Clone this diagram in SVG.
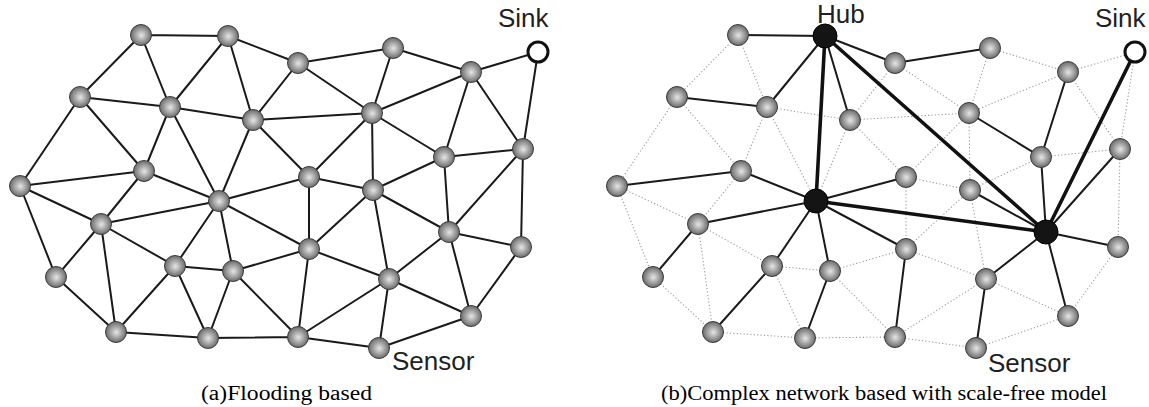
<svg xmlns="http://www.w3.org/2000/svg" width="1149" height="407" viewBox="0 0 1149 407">
<defs>
<radialGradient id="ball" cx="50%" cy="50%" r="55%" fx="52%" fy="52%">
<stop offset="0" stop-color="#e6e6e6"/>
<stop offset="0.45" stop-color="#a9a9a9"/>
<stop offset="1" stop-color="#5e5e5e"/>
</radialGradient>
<style>
.n{fill:url(#ball);stroke:#3c3c3c;stroke-width:1}
.hub{fill:#141414;stroke:#000;stroke-width:1}
.sink{fill:#fff;stroke:#111;stroke-width:3}
.e{stroke:#1a1a1a;stroke-width:2;fill:none;stroke-linecap:round}
.t{stroke:#111;stroke-width:3.6;fill:none;stroke-linecap:round}
.d{stroke:#9a9a9a;stroke-width:1.1;fill:none;stroke-dasharray:1.2 2.2}
.lbl{font-family:"Liberation Sans",Arial,sans-serif;font-size:26px;fill:#231f20}
.cap{font-family:"Liberation Serif","Times New Roman",serif;font-size:20.5px;fill:#000}
</style>
</defs>
<rect width="1149" height="407" fill="#fff"/>

<g id="connectors-a">
<path class="e" d="M141,35L228,36M141,35L80,97M141,35L170,107M228,36L170,107M228,36L253,120M228,36L298,63M80,97L170,107M80,97L20,186M80,97L144,171M170,107L144,171M170,107L253,120M170,107L219,201M253,120L219,201M253,120L298,63M253,120L372,113M253,120L309,177M20,186L144,171M20,186L101,224M20,186L56,277M144,171L219,201M144,171L101,224M219,201L309,177M101,224L219,201M101,224L56,277M101,224L116,332M101,224L175,266M56,277L116,332M175,266L219,201M175,266L233,271M175,266L116,332M175,266L208,338M233,271L219,201M233,271L208,338M233,271L309,249M233,271L298,337M219,201L309,249M116,332L208,338M208,338L298,337M298,63L393,48M298,63L372,113M393,48L372,113M393,48L471,72M471,72L538,52M471,72L372,113M471,72L444,157M471,72L523,149M538,52L523,149M372,113L309,177M372,113L373,190M372,113L444,157M444,157L523,149M444,157L449,232M523,149L449,232M523,149L521,247M309,177L373,190M309,177L309,249M373,190L444,157M373,190L389,279M373,190L449,232M309,249L389,279M309,249L298,337M309,249L373,190M449,232L521,247M449,232L389,279M449,232L471,316M521,247L471,316M389,279L298,337M389,279L379,348M389,279L471,316M298,337L379,348M379,348L471,316"/>
</g>

<g id="connectors-b">
<path class="d" d="M738,35L677,97M738,35L767,107M677,97L617,186M677,97L741,171M767,107L741,171M767,107L850,120M767,107L816,201M850,120L816,201M850,120L895,63M850,120L969,113M850,120L906,177M617,186L698,224M617,186L653,277M741,171L698,224M698,224L713,332M698,224L772,266M653,277L713,332M772,266L830,271M772,266L805,338M830,271L906,249M830,271L895,337M713,332L805,338M805,338L895,337M895,63L969,113M990,48L969,113M990,48L1068,72M1068,72L1135,52M1068,72L969,113M1068,72L1120,149M1135,52L1120,149M969,113L906,177M969,113L970,190M1041,157L1120,149M1120,149L1118,247M906,177L970,190M906,177L906,249M970,190L1041,157M970,190L986,279M906,249L986,279M906,249L970,190M1118,247L1068,316M986,279L895,337M986,279L1068,316M895,337L976,348M976,348L1068,316"/>
<path class="e" d="M738,35L825,36M825,36L767,107M825,36L850,120M825,36L895,63M677,97L767,107M617,186L741,171M741,171L816,201M895,63L990,48M969,113L1041,157M1068,72L1041,157M1120,149L1046,232M1041,157L1046,232M970,190L1046,232M816,201L906,177M698,224L816,201M772,266L816,201M830,271L816,201M816,201L906,249M698,224L653,277M772,266L713,332M830,271L805,338M906,249L895,337M1046,232L986,279M986,279L976,348M1046,232L1118,247M1046,232L1068,316"/>
<path class="t" d="M825,36L816,201M825,36L1046,232M816,201L1046,232M1135,52L1046,232"/>
</g>

<g id="nodes-a">
<g id="a1"><circle class="n" cx="141" cy="35" r="10.5"/></g>
<g id="a2"><circle class="n" cx="228" cy="36" r="10.5"/></g>
<g id="a3"><circle class="n" cx="298" cy="63" r="10.5"/></g>
<g id="a4"><circle class="n" cx="393" cy="48" r="10.5"/></g>
<g id="a5"><circle class="n" cx="471" cy="72" r="10.5"/></g>
<g id="a-sink"><circle class="sink" cx="538" cy="52" r="10"/></g>
<g id="a6"><circle class="n" cx="80" cy="97" r="10.5"/></g>
<g id="a7"><circle class="n" cx="170" cy="107" r="10.5"/></g>
<g id="a8"><circle class="n" cx="253" cy="120" r="10.5"/></g>
<g id="a9"><circle class="n" cx="372" cy="113" r="10.5"/></g>
<g id="a10"><circle class="n" cx="20" cy="186" r="10.5"/></g>
<g id="a11"><circle class="n" cx="144" cy="171" r="10.5"/></g>
<g id="a12"><circle class="n" cx="219" cy="201" r="10.5"/></g>
<g id="a13"><circle class="n" cx="309" cy="177" r="10.5"/></g>
<g id="a14"><circle class="n" cx="373" cy="190" r="10.5"/></g>
<g id="a15"><circle class="n" cx="444" cy="157" r="10.5"/></g>
<g id="a16"><circle class="n" cx="523" cy="149" r="10.5"/></g>
<g id="a17"><circle class="n" cx="101" cy="224" r="10.5"/></g>
<g id="a18"><circle class="n" cx="56" cy="277" r="10.5"/></g>
<g id="a19"><circle class="n" cx="175" cy="266" r="10.5"/></g>
<g id="a20"><circle class="n" cx="233" cy="271" r="10.5"/></g>
<g id="a21"><circle class="n" cx="309" cy="249" r="10.5"/></g>
<g id="a22"><circle class="n" cx="389" cy="279" r="10.5"/></g>
<g id="a23"><circle class="n" cx="449" cy="232" r="10.5"/></g>
<g id="a24"><circle class="n" cx="521" cy="247" r="10.5"/></g>
<g id="a25"><circle class="n" cx="116" cy="332" r="10.5"/></g>
<g id="a26"><circle class="n" cx="208" cy="338" r="10.5"/></g>
<g id="a27"><circle class="n" cx="298" cy="337" r="10.5"/></g>
<g id="a28"><circle class="n" cx="379" cy="348" r="10.5"/></g>
<g id="a29"><circle class="n" cx="471" cy="316" r="10.5"/></g>
</g>

<g id="nodes-b">
<g id="b1"><circle class="n" cx="738" cy="35" r="10.5"/></g>
<g id="b-hub1"><circle class="hub" cx="825" cy="36" r="12"/></g>
<g id="b3"><circle class="n" cx="895" cy="63" r="10.5"/></g>
<g id="b4"><circle class="n" cx="990" cy="48" r="10.5"/></g>
<g id="b5"><circle class="n" cx="1068" cy="72" r="10.5"/></g>
<g id="b-sink"><circle class="sink" cx="1135" cy="52" r="10"/></g>
<g id="b6"><circle class="n" cx="677" cy="97" r="10.5"/></g>
<g id="b7"><circle class="n" cx="767" cy="107" r="10.5"/></g>
<g id="b8"><circle class="n" cx="850" cy="120" r="10.5"/></g>
<g id="b9"><circle class="n" cx="969" cy="113" r="10.5"/></g>
<g id="b10"><circle class="n" cx="617" cy="186" r="10.5"/></g>
<g id="b11"><circle class="n" cx="741" cy="171" r="10.5"/></g>
<g id="b-hub2"><circle class="hub" cx="816" cy="201" r="12"/></g>
<g id="b13"><circle class="n" cx="906" cy="177" r="10.5"/></g>
<g id="b14"><circle class="n" cx="970" cy="190" r="10.5"/></g>
<g id="b15"><circle class="n" cx="1041" cy="157" r="10.5"/></g>
<g id="b16"><circle class="n" cx="1120" cy="149" r="10.5"/></g>
<g id="b17"><circle class="n" cx="698" cy="224" r="10.5"/></g>
<g id="b18"><circle class="n" cx="653" cy="277" r="10.5"/></g>
<g id="b19"><circle class="n" cx="772" cy="266" r="10.5"/></g>
<g id="b20"><circle class="n" cx="830" cy="271" r="10.5"/></g>
<g id="b21"><circle class="n" cx="906" cy="249" r="10.5"/></g>
<g id="b22"><circle class="n" cx="986" cy="279" r="10.5"/></g>
<g id="b-hub3"><circle class="hub" cx="1046" cy="232" r="12"/></g>
<g id="b24"><circle class="n" cx="1118" cy="247" r="10.5"/></g>
<g id="b25"><circle class="n" cx="713" cy="332" r="10.5"/></g>
<g id="b26"><circle class="n" cx="805" cy="338" r="10.5"/></g>
<g id="b27"><circle class="n" cx="895" cy="337" r="10.5"/></g>
<g id="b28"><circle class="n" cx="976" cy="348" r="10.5"/></g>
<g id="b29"><circle class="n" cx="1068" cy="316" r="10.5"/></g>
</g>

<g id="labels">
<text class="lbl" x="498" y="27">Sink</text>
<text class="lbl" x="392" y="370">Sensor</text>
<text class="lbl" x="817" y="23">Hub</text>
<text class="lbl" x="1095" y="27">Sink</text>
<text class="lbl" x="988" y="372">Sensor</text>
<text class="cap" x="201" y="400" textLength="171" lengthAdjust="spacingAndGlyphs">(a)Flooding based</text>
<text class="cap" x="661" y="400" textLength="446" lengthAdjust="spacingAndGlyphs">(b)Complex network based with scale-free model</text>
</g>
</svg>
